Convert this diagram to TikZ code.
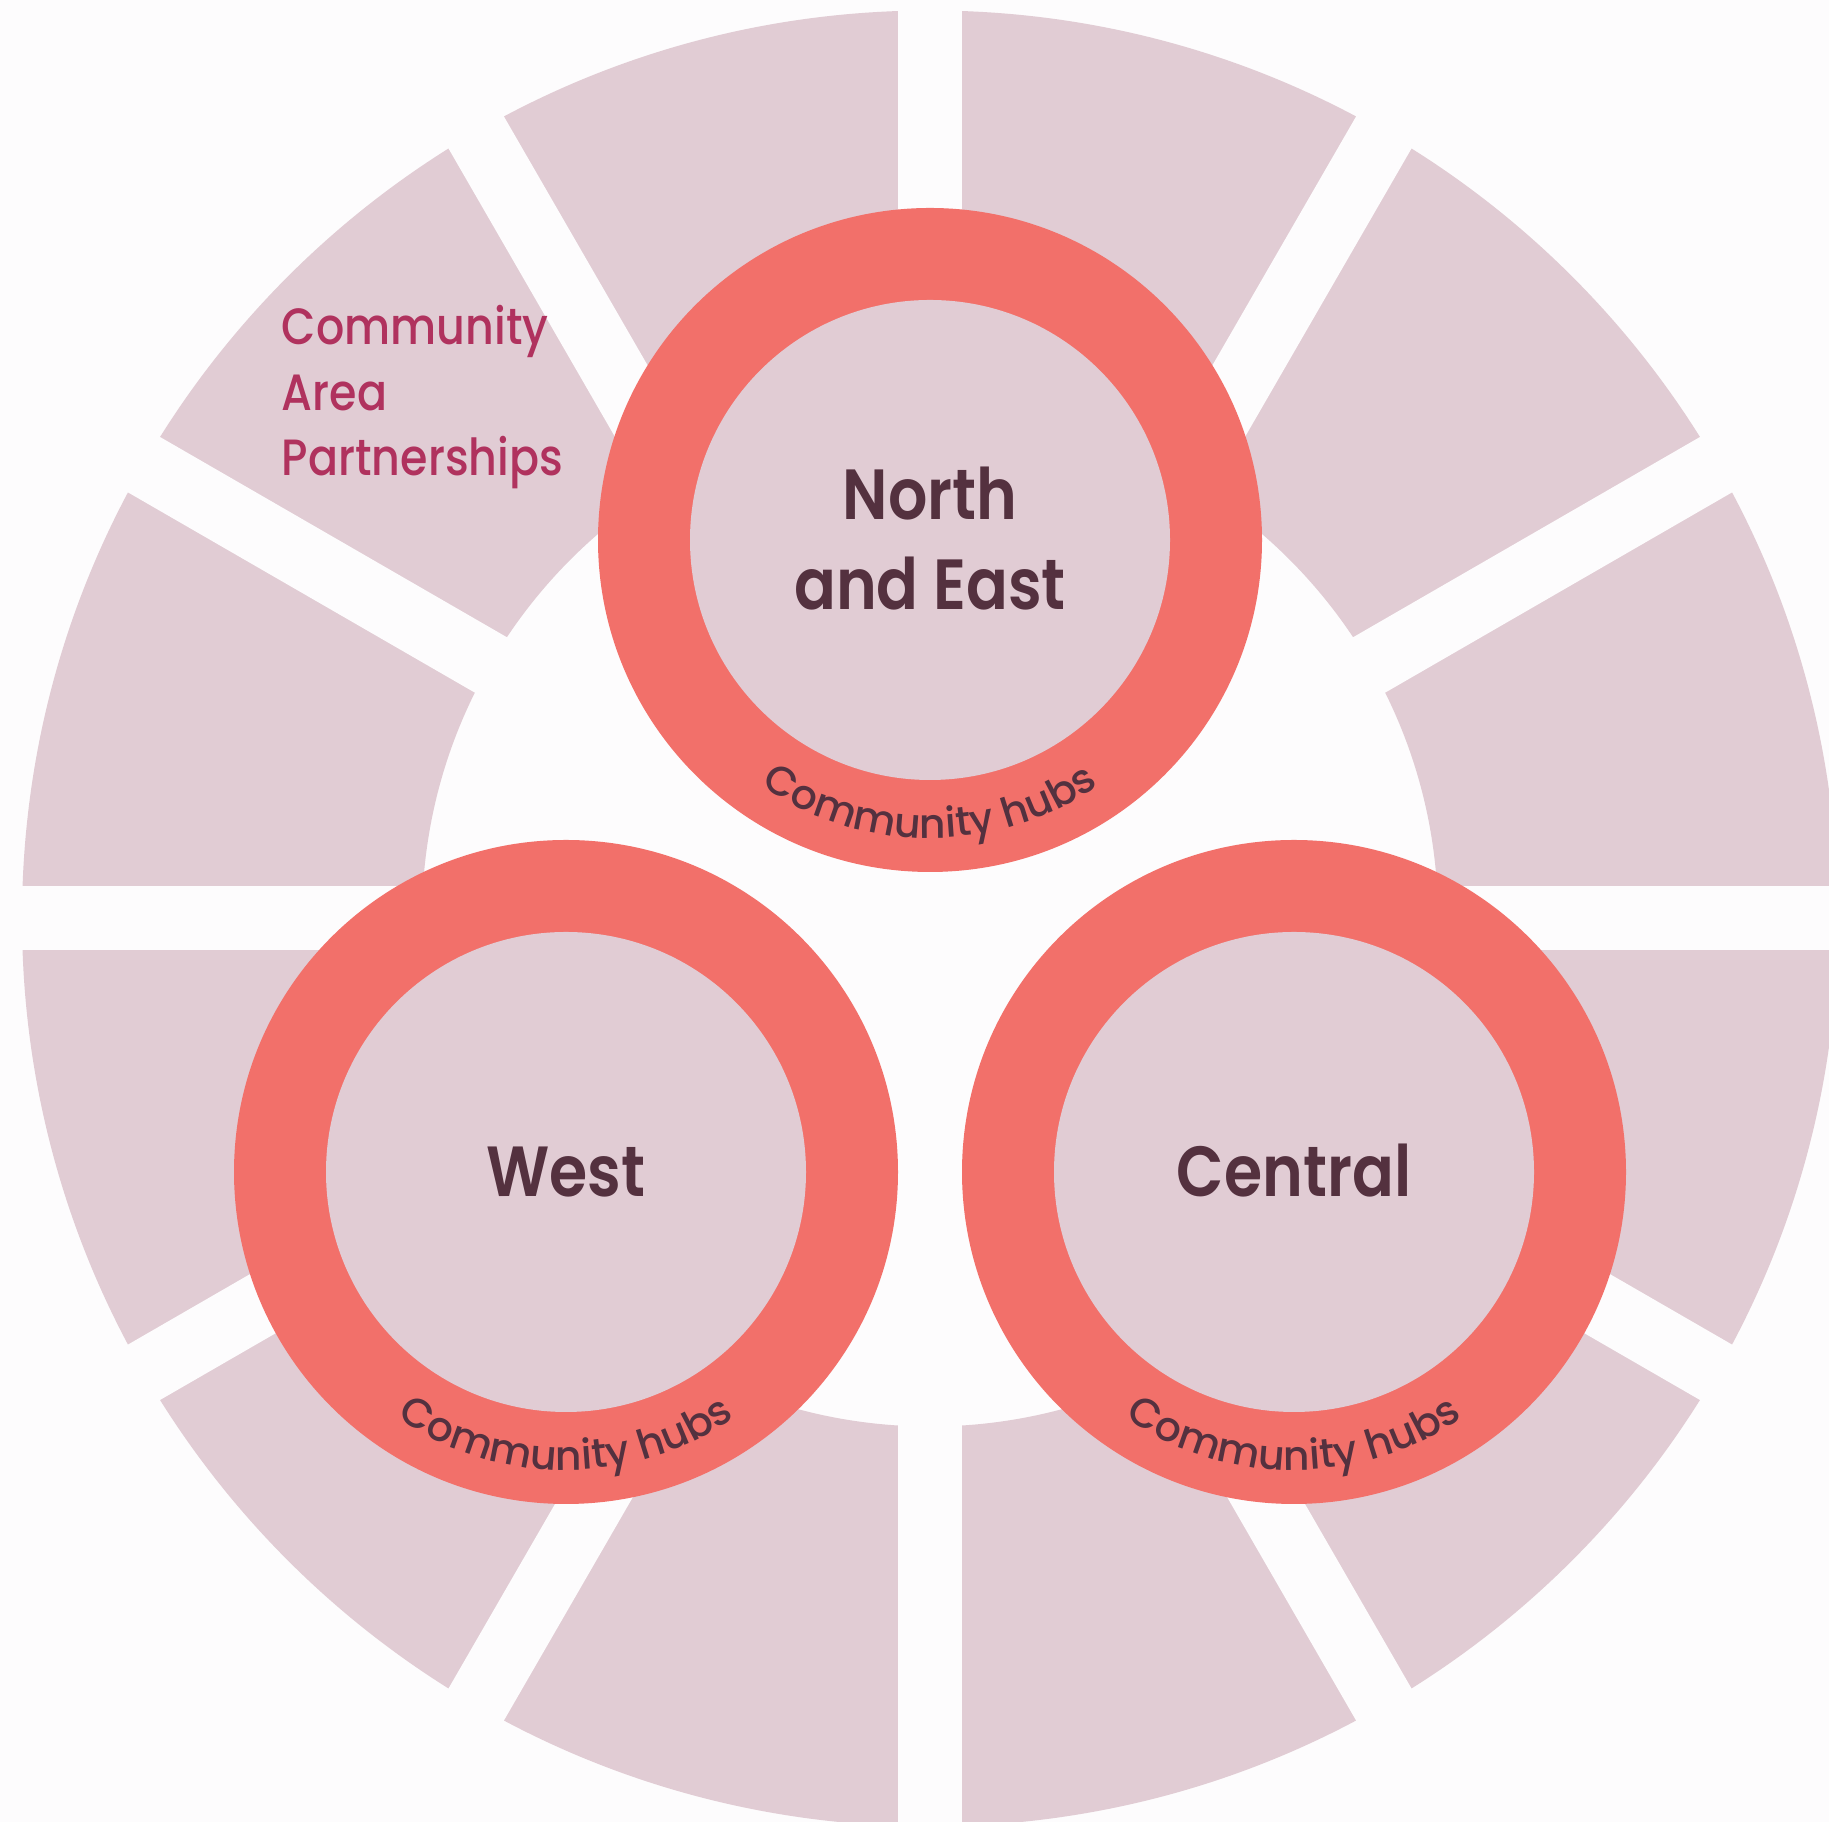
\documentclass[tikz,border=0pt]{standalone}
\usepackage{fontspec}
\setmainfont{Poppins}[UprightFont=* Medium, BoldFont=* SemiBold, FakeStretch=0.87]
\newfontfamily\hubfont{Poppins}[UprightFont=* Medium, BoldFont=* SemiBold]
\usetikzlibrary{decorations.text,calc}
\definecolor{bgc}{HTML}{FDFCFD}
\definecolor{mauve}{HTML}{E1CCD4}
\definecolor{salmon}{HTML}{F2706A}
\definecolor{darktext}{HTML}{54313F}
\definecolor{pinktext}{HTML}{B0325E}
\begin{document}
\begin{tikzpicture}[x=1pt,y=1pt,
  ringouter/.style={circle, fill=salmon, minimum size=664pt, inner sep=0pt},
  ringinner/.style={circle, fill=mauve, minimum size=480pt, inner sep=0pt},
  regionlabel/.style={font=\bfseries\fontsize{71}{91}\selectfont, text=darktext, anchor=base, inner sep=0pt},
  caplabel/.style={font=\fontsize{51}{60}\selectfont, text=pinktext, anchor=base west, inner sep=0pt},
  hubtext/.style={decorate, decoration={text along path, text align=center,
      text={|\hubfont\fontsize{41}{44}\selectfont\color{darktext}|Community hubs}}}
]
\useasboundingbox (0,0) rectangle (1829,1822);
\clip (0,0) rectangle (1829,1822);
\fill[bgc] (0,0) rectangle (1829,1822);
% wheel of 12 segments
\coordinate (wc) at (930,903.5);
\fill[mauve, even odd rule] (wc) circle[radius=908] (wc) circle[radius=508];
\foreach \a in {0,30,...,150}
  \draw[bgc, line width=64pt] ($(wc)+(\a:930)$) -- ($(wc)+(\a+180:930)$);
% rings
\node[ringouter] (nO) at (930,1282) {};
\node[ringinner] (nI) at (930,1282) {};
\node[ringouter] (wO) at (566,650) {};
\node[ringinner] (wI) at (566,650) {};
\node[ringouter] (cO) at (1294,650) {};
\node[ringinner] (cI) at (1294,650) {};
% labels
\node[regionlabel] (north) at (930,1302.7) {North};
\node[regionlabel] (andeast) at (930,1212) {and East};
\node[regionlabel] (west) at (566,625) {West};
\node[regionlabel] (central) at (1294,625) {Central};
\node[caplabel] (cap1) at (281.7,1477) {Community};
\node[caplabel] (cap2) at (281.7,1411.3) {Area};
\node[caplabel] (cap3) at (281.7,1346) {Partnerships};
% curved hub texts
\path[hubtext] ($(nO.center)+(210:298)$) arc[start angle=210, end angle=330, radius=298];
\path[hubtext] ($(wO.center)+(210:298)$) arc[start angle=210, end angle=330, radius=298];
\path[hubtext] ($(cO.center)+(210:298)$) arc[start angle=210, end angle=330, radius=298];
\end{tikzpicture}
\end{document}
